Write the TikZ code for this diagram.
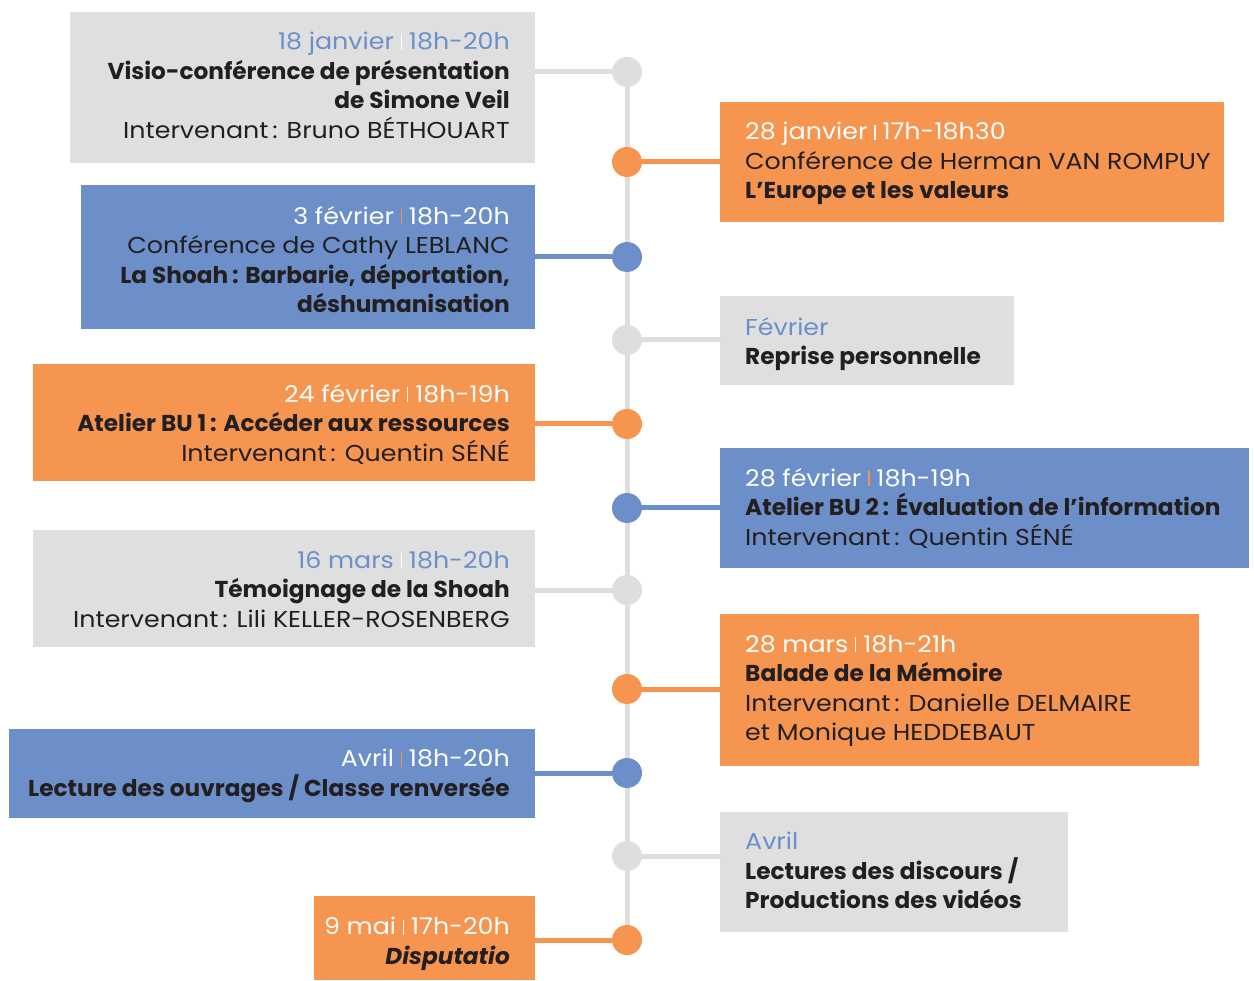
\documentclass[tikz,border=0pt]{standalone}
\usepackage{fontspec}
\setmainfont{Poppins}[FakeStretch=1.10, BoldFeatures={FakeStretch=1.01}, BoldItalicFeatures={FakeStretch=1.01}]
\definecolor{orng}{HTML}{F6954F}
\definecolor{blu}{HTML}{6C8FCA}
\definecolor{gbox}{HTML}{DEDFDE}
\definecolor{gline}{HTML}{DEDEDE}
\definecolor{ink}{HTML}{231F20}
\newcommand\sepbar[1]{\hspace{0.3em}\textcolor{#1}{\rule{1.2pt}{0.66em}}\hspace{0.3em}}
\begin{document}
\begin{tikzpicture}[x=1pt,y=-1pt,
  box/.style={rectangle, inner sep=0pt, anchor=north west, draw=none},
  txtR/.style={inner sep=0pt, anchor=north east, align=right, text=ink, font=\fontsize{23}{29.5}\selectfont},
  txtL/.style={inner sep=0pt, anchor=north west, align=left, text=ink, font=\fontsize{23}{29.5}\selectfont},
  dot/.style={circle, inner sep=0pt, minimum size=30pt},
  conn/.style={line width=5pt},
]
\useasboundingbox (0,0) rectangle (1254,981);
% boxes
\node[box, fill=gbox, minimum width=465pt, minimum height=151pt] (b1) at (70,12) {};
\node[box, fill=orng, minimum width=504pt, minimum height=120pt] (b2) at (720,102) {};
\node[box, fill=blu, minimum width=454pt, minimum height=144pt] (b3) at (81,185) {};
\node[box, fill=gbox, minimum width=294pt, minimum height=89pt] (b4) at (720,296) {};
\node[box, fill=orng, minimum width=502pt, minimum height=117pt] (b5) at (33,364) {};
\node[box, fill=blu, minimum width=529pt, minimum height=120pt] (b6) at (720,448) {};
\node[box, fill=gbox, minimum width=502pt, minimum height=117pt] (b7) at (33,530) {};
\node[box, fill=orng, minimum width=479pt, minimum height=152pt] (b8) at (720,614) {};
\node[box, fill=blu, minimum width=526pt, minimum height=89pt] (b9) at (9,729) {};
\node[box, fill=gbox, minimum width=348pt, minimum height=120pt] (b10) at (720,812) {};
\node[box, fill=orng, minimum width=221pt, minimum height=84pt] (b11) at (314,896) {};
% dots
\node[dot, fill=gline] (c1) at (627,72) {};
\node[dot, fill=orng] (c2) at (627,162) {};
\node[dot, fill=blu] (c3) at (627,257) {};
\node[dot, fill=gline] (c4) at (627,340) {};
\node[dot, fill=orng] (c5) at (627,424) {};
\node[dot, fill=blu] (c6) at (627,508) {};
\node[dot, fill=gline] (c7) at (627,590) {};
\node[dot, fill=orng] (c8) at (627,689) {};
\node[dot, fill=blu] (c9) at (627,773) {};
\node[dot, fill=gline] (c10) at (627,856) {};
\node[dot, fill=orng] (c11) at (627,940) {};
% spine
\foreach \a/\b in {c1/c2,c2/c3,c3/c4,c4/c5,c5/c6,c6/c7,c7/c8,c8/c9,c9/c10,c10/c11}
  \draw[conn, gline] (\a) -- (\b);
% connectors
\draw[conn, gline] (b1.east |- c1) -- (c1);
\draw[conn, orng] (b2.west |- c2) -- (c2);
\draw[conn, blu] (b3.east |- c3) -- (c3);
\draw[conn, gline] (b4.west |- c4) -- (c4);
\draw[conn, orng] (b5.east |- c5) -- (c5);
\draw[conn, blu] (b6.west |- c6) -- (c6);
\draw[conn, gline] (b7.east |- c7) -- (c7);
\draw[conn, orng] (b8.west |- c8) -- (c8);
\draw[conn, blu] (b9.east |- c9) -- (c9);
\draw[conn, gline] (b10.west |- c10) -- (c10);
\draw[conn, orng] (b11.east |- c11) -- (c11);
% texts
\node[txtR] (t1) at (510,32) {{\color{blu}18 janvier\sepbar{white}18h-20h}\\ \textbf{Visio-conférence de présentation}\\ \textbf{de Simone Veil}\\ Intervenant\,: Bruno BÉTHOUART};
\node[txtL] (t2) at (745,122) {{\color{white}28 janvier\sepbar{white}17h-18h30}\\ Conférence de Herman VAN ROMPUY\\ \textbf{L’Europe et les valeurs}};
\node[txtR] (t3) at (510,206) {{\color{white}3 février\sepbar{orng}18h-20h}\\ Conférence de Cathy LEBLANC\\ \textbf{La Shoah\,: Barbarie, déportation,}\\ \textbf{déshumanisation}};
\node[txtL] (t4) at (745,317) {{\color{blu}Février}\\ \textbf{Reprise personnelle}};
\node[txtR] (t5) at (510,384) {{\color{white}24 février\sepbar{white}18h-19h}\\ \textbf{Atelier BU 1\,: Accéder aux ressources}\\ Intervenant\,: Quentin SÉNÉ};
\node[txtL] (t6) at (745,468) {{\color{white}28 février\sepbar{orng}18h-19h}\\ \textbf{Atelier BU 2\,: Évaluation de l’information}\\ Intervenant\,: Quentin SÉNÉ};
\node[txtR] (t7) at (510,551) {{\color{blu}16 mars\sepbar{white}18h-20h}\\ \textbf{Témoignage de la Shoah}\\ Intervenant\,: Lili KELLER-ROSENBERG};
\node[txtL] (t8) at (745,635) {{\color{white}28 mars\sepbar{white}18h-21h}\\ \textbf{Balade de la Mémoire}\\ Intervenant\,: Danielle DELMAIRE\\ et Monique HEDDEBAUT};
\node[txtR] (t9) at (510,749) {{\color{white}Avril\sepbar{orng}18h-20h}\\ \textbf{Lecture des ouvrages / Classe renversée}};
\node[txtL] (t10) at (745,832) {{\color{blu}Avril}\\ \textbf{Lectures des discours /}\\ \textbf{Productions des vidéos}};
\node[txtR] (t11) at (510,917) {{\color{white}9 mai\sepbar{white}17h-20h}\\ \textbf{\textit{Disputatio}}};
\end{tikzpicture}
\end{document}
